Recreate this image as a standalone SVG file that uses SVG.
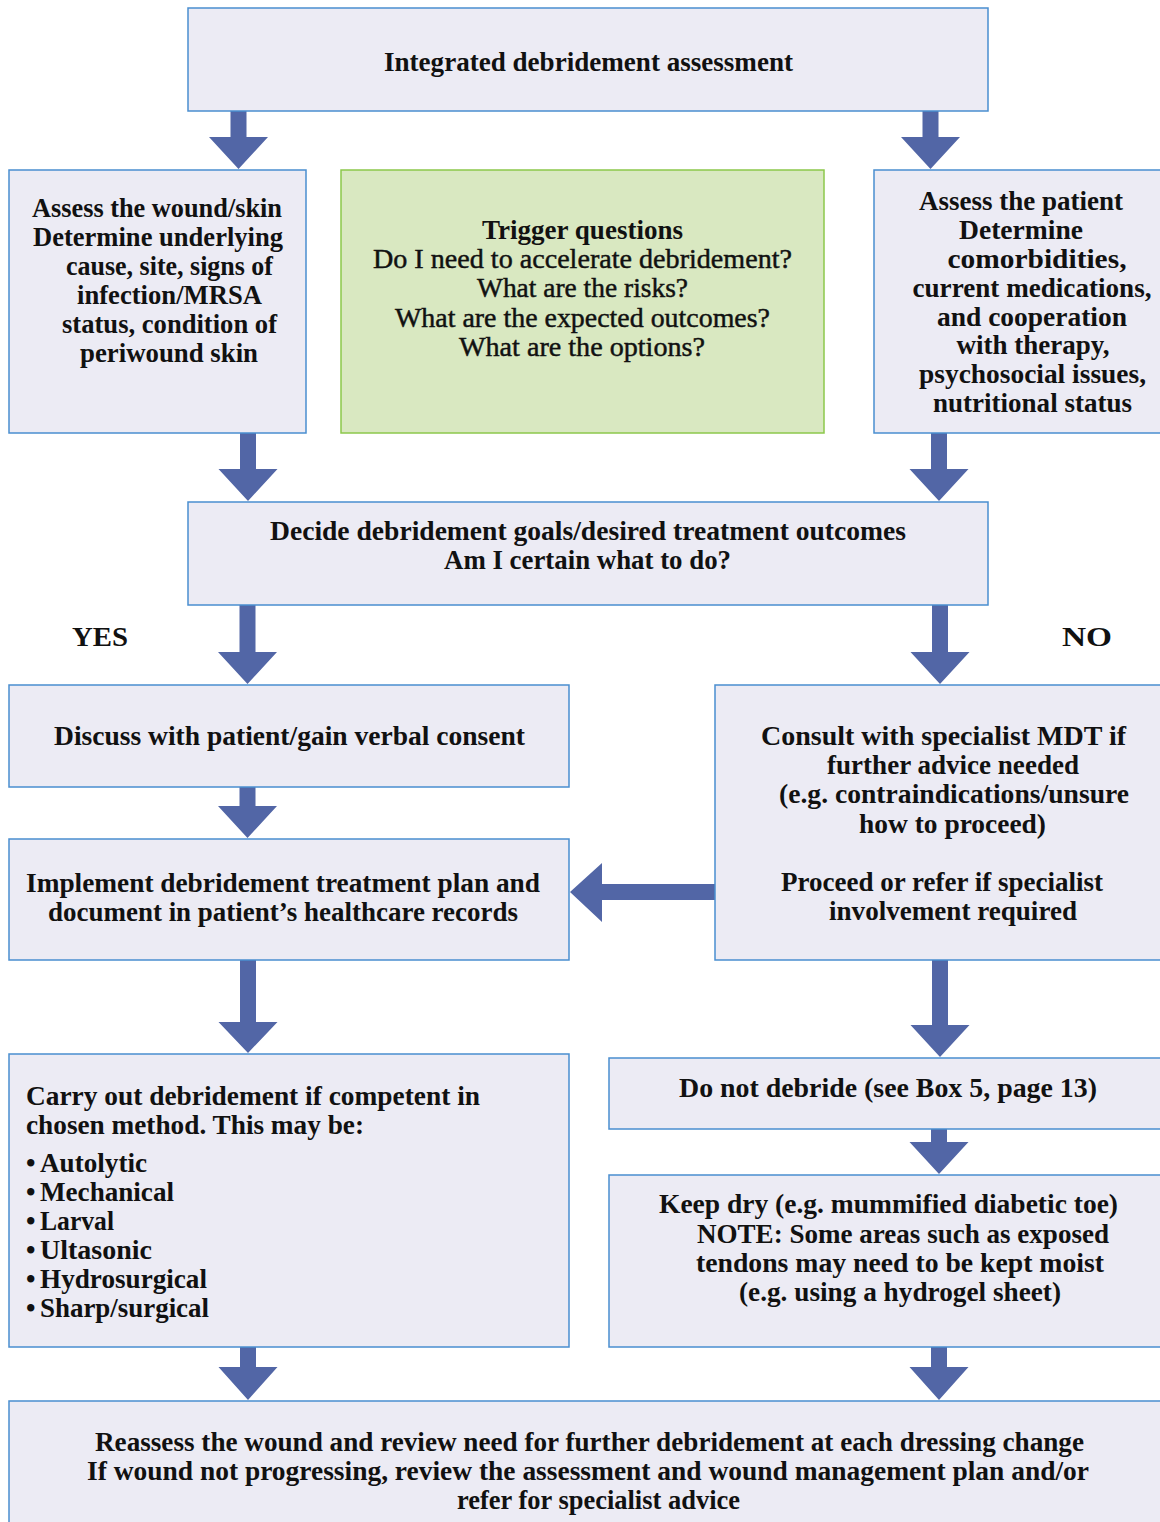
<svg xmlns="http://www.w3.org/2000/svg" width="1160" height="1522" viewBox="0 0 1160 1522">
<style>
.box{fill:#ECEBF4;stroke:#4A8ED0;stroke-width:1.5}
.green{fill:#D9E8C1;stroke:#8CC84B;stroke-width:1.5}
.arr{fill:#5266A6}
text{font-family:"Liberation Serif","Times New Roman",serif;font-size:27px;font-weight:bold;fill:#111}
.c{text-anchor:middle}
.reg{font-weight:normal;stroke:#111;stroke-width:0.45}
</style>
<rect width="1160" height="1522" fill="#FFFFFF"/>
<g id="connectors">
<polygon class="arr" points="230.5,111 246.5,111 246.5,137 268,137 238.5,169 209,137 230.5,137"/>
<polygon class="arr" points="922.5,111 938.5,111 938.5,137 960,137 930.5,169 901,137 922.5,137"/>
<polygon class="arr" points="240,433 256,433 256,469 277.5,469 248,501 218.5,469 240,469"/>
<polygon class="arr" points="931,433 947,433 947,469 968.5,469 939,501 909.5,469 931,469"/>
<polygon class="arr" points="239.5,605 255.5,605 255.5,652 277,652 247.5,684 218,652 239.5,652"/>
<polygon class="arr" points="932,605 948,605 948,652 969.5,652 940,684 910.5,652 932,652"/>
<polygon class="arr" points="239.5,787 255.5,787 255.5,806 277,806 247.5,838 218,806 239.5,806"/>
<polygon class="arr" points="240,960 256,960 256,1022 277.5,1022 248,1053 218.5,1022 240,1022"/>
<polygon class="arr" points="932,960 948,960 948,1025 969.5,1025 940,1057 910.5,1025 932,1025"/>
<polygon class="arr" points="931,1129 947,1129 947,1142 968.5,1142 939,1174 909.5,1142 931,1142"/>
<polygon class="arr" points="240,1347 256,1347 256,1367 277.5,1367 248,1400 218.5,1367 240,1367"/>
<polygon class="arr" points="931,1347 947,1347 947,1367 968.5,1367 939,1400 909.5,1367 931,1367"/>
<polygon class="arr" points="715,884 715,900 602,900 602,922 570,892 602,863 602,884"/>
</g>
<g id="node-integrated">
<rect class="box" x="188" y="8" width="800" height="103"/>
<text class="c" x="588.5" y="71" textLength="409" lengthAdjust="spacingAndGlyphs">Integrated debridement assessment</text>
</g>
<g id="node-assess-wound">
<rect class="box" x="9" y="170" width="297" height="263"/>
<text class="c" x="157" y="217" textLength="250" lengthAdjust="spacingAndGlyphs">Assess the wound/skin</text>
<text class="c" x="158" y="246" textLength="250" lengthAdjust="spacingAndGlyphs">Determine underlying</text>
<text class="c" x="169.5" y="275" textLength="207" lengthAdjust="spacingAndGlyphs">cause, site, signs of</text>
<text class="c" x="169.5" y="304" textLength="185" lengthAdjust="spacingAndGlyphs">infection/MRSA</text>
<text class="c" x="169.5" y="333" textLength="215" lengthAdjust="spacingAndGlyphs">status, condition of</text>
<text class="c" x="169" y="362" textLength="178" lengthAdjust="spacingAndGlyphs">periwound skin</text>
</g>
<g id="node-trigger">
<rect class="green" x="341" y="170" width="483" height="263"/>
<text class="c" x="582.5" y="239" textLength="201" lengthAdjust="spacingAndGlyphs">Trigger questions</text>
<text class="c reg" x="582.5" y="268" textLength="419" lengthAdjust="spacingAndGlyphs">Do I need to accelerate debridement?</text>
<text class="c reg" x="582.5" y="297" textLength="211" lengthAdjust="spacingAndGlyphs">What are the risks?</text>
<text class="c reg" x="582.5" y="327" textLength="375" lengthAdjust="spacingAndGlyphs">What are the expected outcomes?</text>
<text class="c reg" x="582" y="356" textLength="246" lengthAdjust="spacingAndGlyphs">What are the options?</text>
</g>
<g id="node-assess-patient">
<rect class="box" x="874" y="170" width="300" height="263"/>
<text class="c" x="1021" y="210" textLength="204" lengthAdjust="spacingAndGlyphs">Assess the patient</text>
<text class="c" x="1021" y="239" textLength="124" lengthAdjust="spacingAndGlyphs">Determine</text>
<text class="c" x="1037" y="268" textLength="179" lengthAdjust="spacingAndGlyphs">comorbidities,</text>
<text class="c" x="1032" y="297" textLength="239" lengthAdjust="spacingAndGlyphs">current medications,</text>
<text class="c" x="1032" y="326" textLength="190" lengthAdjust="spacingAndGlyphs">and cooperation</text>
<text class="c" x="1033" y="354" textLength="153" lengthAdjust="spacingAndGlyphs">with therapy,</text>
<text class="c" x="1032.5" y="383" textLength="227" lengthAdjust="spacingAndGlyphs">psychosocial issues,</text>
<text class="c" x="1032.5" y="412" textLength="199" lengthAdjust="spacingAndGlyphs">nutritional status</text>
</g>
<g id="node-decide">
<rect class="box" x="188" y="502" width="800" height="103"/>
<text class="c" x="588" y="540" textLength="636" lengthAdjust="spacingAndGlyphs">Decide debridement goals/desired treatment outcomes</text>
<text class="c" x="587.5" y="569" textLength="287" lengthAdjust="spacingAndGlyphs">Am I certain what to do?</text>
</g>
<g id="label-yes">
<text x="72" y="646" textLength="56" lengthAdjust="spacingAndGlyphs">YES</text>
</g>
<g id="label-no">
<text x="1062" y="646" textLength="50" lengthAdjust="spacingAndGlyphs">NO</text>
</g>
<g id="node-discuss">
<rect class="box" x="9" y="685" width="560" height="102"/>
<text class="c" x="289.5" y="745" textLength="471" lengthAdjust="spacingAndGlyphs">Discuss with patient/gain verbal consent</text>
</g>
<g id="node-implement">
<rect class="box" x="9" y="839" width="560" height="121"/>
<text class="c" x="283" y="892" textLength="514" lengthAdjust="spacingAndGlyphs">Implement debridement treatment plan and</text>
<text class="c" x="283" y="921" textLength="470" lengthAdjust="spacingAndGlyphs">document in patient’s healthcare records</text>
</g>
<g id="node-consult">
<rect class="box" x="715" y="685" width="460" height="275"/>
<text class="c" x="943.5" y="745" textLength="365" lengthAdjust="spacingAndGlyphs">Consult with specialist MDT if</text>
<text class="c" x="953" y="774" textLength="252" lengthAdjust="spacingAndGlyphs">further advice needed</text>
<text class="c" x="954" y="803" textLength="350" lengthAdjust="spacingAndGlyphs">(e.g. contraindications/unsure</text>
<text class="c" x="952.5" y="833" textLength="187" lengthAdjust="spacingAndGlyphs">how to proceed)</text>
<text class="c" x="942" y="891" textLength="322" lengthAdjust="spacingAndGlyphs">Proceed or refer if specialist</text>
<text class="c" x="953" y="920" textLength="248" lengthAdjust="spacingAndGlyphs">involvement required</text>
</g>
<g id="node-carry-out">
<rect class="box" x="9" y="1054" width="560" height="293"/>
<text x="26" y="1105" textLength="454" lengthAdjust="spacingAndGlyphs">Carry out debridement if competent in</text>
<text x="26" y="1134" textLength="338" lengthAdjust="spacingAndGlyphs">chosen method. This may be:</text>
<text x="26" y="1172">•</text><text x="40" y="1172" textLength="107" lengthAdjust="spacingAndGlyphs">Autolytic</text>
<text x="26" y="1201">•</text><text x="40" y="1201" textLength="134" lengthAdjust="spacingAndGlyphs">Mechanical</text>
<text x="26" y="1230">•</text><text x="40" y="1230" textLength="74" lengthAdjust="spacingAndGlyphs">Larval</text>
<text x="26" y="1259">•</text><text x="40" y="1259" textLength="112" lengthAdjust="spacingAndGlyphs">Ultasonic</text>
<text x="26" y="1288">•</text><text x="40" y="1288" textLength="167" lengthAdjust="spacingAndGlyphs">Hydrosurgical</text>
<text x="26" y="1317">•</text><text x="40" y="1317" textLength="169" lengthAdjust="spacingAndGlyphs">Sharp/surgical</text>
</g>
<g id="node-do-not-debride">
<rect class="box" x="609" y="1058" width="566" height="71"/>
<text class="c" x="888" y="1097" textLength="418" lengthAdjust="spacingAndGlyphs">Do not debride (see Box 5, page 13)</text>
</g>
<g id="node-keep-dry">
<rect class="box" x="609" y="1175" width="566" height="172"/>
<text class="c" x="888.5" y="1213" textLength="459" lengthAdjust="spacingAndGlyphs">Keep dry (e.g. mummified diabetic toe)</text>
<text class="c" x="903" y="1243" textLength="412" lengthAdjust="spacingAndGlyphs">NOTE: Some areas such as exposed</text>
<text class="c" x="900" y="1272" textLength="408" lengthAdjust="spacingAndGlyphs">tendons may need to be kept moist</text>
<text class="c" x="900" y="1301" textLength="322" lengthAdjust="spacingAndGlyphs">(e.g. using a hydrogel sheet)</text>
</g>
<g id="node-reassess">
<rect class="box" x="9" y="1401" width="1166" height="130"/>
<text class="c" x="589.5" y="1451" textLength="989" lengthAdjust="spacingAndGlyphs">Reassess the wound and review need for further debridement at each dressing change</text>
<text class="c" x="588" y="1480" textLength="1002" lengthAdjust="spacingAndGlyphs">If wound not progressing, review the assessment and wound management plan and/or</text>
<text class="c" x="598.5" y="1509" textLength="283" lengthAdjust="spacingAndGlyphs">refer for specialist advice</text>
</g>
</svg>
